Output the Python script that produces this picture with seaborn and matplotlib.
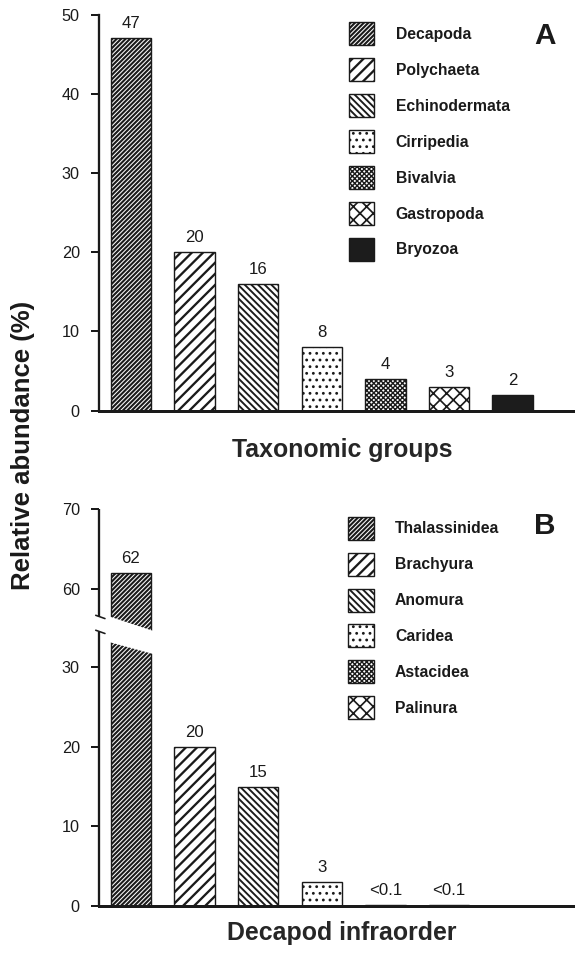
import numpy as np
import matplotlib
matplotlib.use("Agg")
import matplotlib.pyplot as plt
from matplotlib import transforms
from matplotlib.patches import Polygon
import seaborn as sns

# ---- data -------------------------------------------------------------
groups_a = ["Decapoda", "Polychaeta", "Echinodermata", "Cirripedia",
            "Bivalvia", "Gastropoda", "Bryozoa"]
abund_a = [47, 20, 16, 8, 4, 3, 2]
labels_a = ["47", "20", "16", "8", "4", "3", "2"]

groups_b = ["Thalassinidea", "Brachyura", "Anomura", "Caridea",
            "Astacidea", "Palinura"]
abund_b = [62, 20, 15, 3, 0.1, 0.1]
labels_b = ["62", "20", "15", "3", "<0.1", "<0.1"]

yticks_a = [0, 10, 20, 30, 40, 50]
yticks_b = [0, 10, 20, 30, 60, 70]

# ---- styling ----------------------------------------------------------
DPI = 200
W, H = 575, 955
INK = "#1a1a1a"


def px(v):
    """pixels -> points at the output resolution"""
    return v * 72.0 / DPI


hatches = ["/" * 15, "/" * 6, "\\" * 10, "." * 5, "x" * 14, "x" * 5, None]
hatch_lw = [2.1, 2.3, 1.9, 1.5, 1.4, 1.7, 1.5]
faces = ["white", "white", "white", "white", "white", "white", "#1c1c1c"]

sns.set_style("ticks")
plt.rcParams["font.family"] = ["Liberation Sans", "DejaVu Sans"]
plt.rcParams["hatch.linewidth"] = px(1.5)
plt.rcParams["hatch.color"] = INK
plt.rcParams["text.color"] = INK
plt.rcParams["axes.edgecolor"] = INK
plt.rcParams["ytick.color"] = INK
plt.rcParams["ytick.labelcolor"] = INK

fig = plt.figure(figsize=(W / DPI, H / DPI), dpi=DPI)


def rect(l, t, r, b):
    return [l / W, 1 - b / H, (r - l) / W, (b - t) / H]


ax_a = fig.add_axes(rect(99.3, 14.7, 575, 410.5))
ax_b = fig.add_axes(rect(99.3, 509.3, 575, 905.7))


def draw_panel(ax, cats, vals, labels, legend_xy):
    sns.barplot(x=cats, y=vals, order=cats, ax=ax, color="white",
                edgecolor=INK, linewidth=px(1.4), width=0.634,
                errorbar=None, saturation=1)
    for p, h, fc, hl in zip(ax.patches, hatches, faces, hatch_lw):
        p.set_facecolor(fc)
        p.set_hatch(h)
        if hasattr(p, "set_hatch_linewidth"):
            p.set_hatch_linewidth(px(hl))
    ax.bar_label(ax.containers[0], labels=labels, padding=px(7),
                 fontsize=px(16.8), color=INK)
    ax.set_xlim(-0.498, 6.98)
    ax.set_xticks([])
    ax.tick_params(axis="x", length=0)
    ax.tick_params(axis="y", length=px(8), width=px(2), pad=px(11.5),
                   labelsize=px(16.2))
    sns.despine(ax=ax)
    ax.spines["left"].set_linewidth(px(2.3))
    ax.spines["bottom"].set_linewidth(px(3))
    leg = ax.legend(handles=list(ax.patches), labels=cats, loc="upper left",
                    bbox_to_anchor=legend_xy, bbox_transform=fig.transFigure,
                    frameon=False, borderpad=0, borderaxespad=0,
                    handlelength=1.6, handleheight=1.86, labelspacing=0.82,
                    handletextpad=1.35,
                    prop={"weight": "bold", "size": px(15.8)})
    for hp, hl in zip(leg.get_patches(), hatch_lw):
        if hasattr(hp, "set_hatch_linewidth"):
            hp.set_hatch_linewidth(px(hl))


# ---- panel A ------------------------------------------------------------
draw_panel(ax_a, groups_a, abund_a, labels_a, (349 / W, 1 - 22.3 / H))
ax_a.set_ylim(0, 50)
ax_a.set_yticks(yticks_a)
ax_a.set_xlabel("Taxonomic groups", fontsize=px(24.9), weight="bold")
ax_a.xaxis.set_label_coords((342 - 99.3) / 475.7, -(438.3 - 410.5) / 395.8)

# ---- panel B (broken y axis) ------------------------------------------
LO, HI, SHIFT = 34.47, 56.45, 20.1
TOP_LO = HI - SHIFT


def fwd(y):
    y = np.asarray(y, dtype=float)
    mid = LO + (y - LO) * (TOP_LO - LO) / (HI - LO)
    return np.where(y <= LO, y, np.where(y >= HI, y - SHIFT, mid))


def inv(s):
    s = np.asarray(s, dtype=float)
    mid = LO + (s - LO) * (HI - LO) / (TOP_LO - LO)
    return np.where(s <= LO, s, np.where(s >= TOP_LO, s + SHIFT, mid))


draw_panel(ax_b, groups_b, abund_b, labels_b, (348.3 / W, 1 - 516.7 / H))
ax_b.set_yscale("function", functions=(fwd, inv))
ax_b.set_ylim(0, 70)
ax_b.set_yticks(yticks_b)
ax_b.set_xlabel("Decapod infraorder", fontsize=px(24.9), weight="bold")
ax_b.xaxis.set_label_coords((342 - 99.3) / 475.7, -(921 - 905.7) / 396.4)

# slanted cut through the tall bar
half = 0.317
x0, x1 = -half - 0.04, half + 0.04
up_l, up_r = 36.35, 34.68
lo_l, lo_r = 33.13, 31.75
su = (up_r - up_l) / (2 * half)
sl = (lo_r - lo_l) / (2 * half)
cut = np.array([
    [x0, up_l - su * 0.04],
    [x1, up_r + su * 0.04],
    [x1, lo_r + sl * 0.04],
    [x0, lo_l - sl * 0.04],
])
cut[:, 1] = inv(cut[:, 1])
ax_b.add_patch(Polygon(cut, closed=True, facecolor="white",
                       edgecolor="none", zorder=5))

# left axis line drawn in two pieces with break marks
ax_b.spines["left"].set_visible(False)
tr = transforms.blended_transform_factory(ax_b.transAxes, ax_b.transData)
for y0, y1 in [(0, LO), (HI, 70)]:
    ax_b.plot([0, 0], [y0, y1], transform=tr, color=INK, lw=px(2.3),
              clip_on=False, solid_capstyle="butt", zorder=6)
axw, axh = 475.7, 396.4
top_s = float(fwd(70))
for yb in (HI, LO):
    ya = float(fwd(yb)) / top_s
    ax_b.plot([-3.6 / axw, 5.7 / axw], [ya + 1.65 / axh, ya - 1.65 / axh],
              transform=ax_b.transAxes, color=INK, lw=px(1.6),
              clip_on=False, zorder=6)

# ---- shared labels ------------------------------------------------------
fig.text(22.7 / W, 1 - 445 / H, "Relative abundance (%)", rotation=90,
         ha="center", va="center", fontsize=px(25.8), weight="bold")
fig.text(545 / W, 1 - 44 / H, "A", ha="center", va="baseline",
         fontsize=px(29.8), weight="bold")
fig.text(545 / W, 1 - 534 / H, "B", ha="center", va="baseline",
         fontsize=px(29.8), weight="bold")

fig.savefig("out.png", dpi=DPI)
